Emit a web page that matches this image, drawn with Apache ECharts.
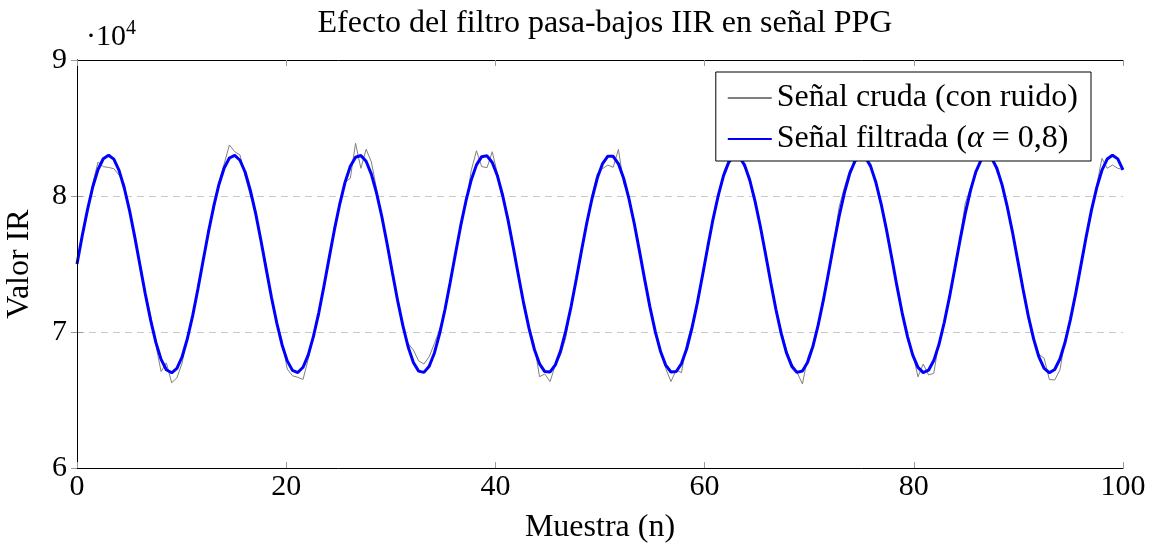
<!DOCTYPE html>
<html>
<head>
<meta charset="utf-8">
<title>Efecto del filtro pasa-bajos IIR en señal PPG</title>
<script src="https://cdn.jsdelivr.net/npm/echarts@6/dist/echarts.min.js"></script>
<style>
  html, body { margin: 0; padding: 0; background: #fff; }
  #chart { width: 1153px; height: 550px; }
</style>
</head>
<body>
<div id="chart"></div>
<script>
// sample positions (n), 200 samples over 0..100
const sampleN = [
  0, 0.50, 1.01, 1.51, 2.01, 2.51, 3.02, 3.52, 4.02, 4.52, 5.03, 5.53, 6.03, 6.53, 7.04, 7.54, 8.04, 8.54, 9.05, 9.55,
  10.05, 10.55, 11.06, 11.56, 12.06, 12.56, 13.07, 13.57, 14.07, 14.57, 15.08, 15.58, 16.08, 16.58, 17.09, 17.59, 18.09, 18.59, 19.10, 19.60,
  20.10, 20.60, 21.11, 21.61, 22.11, 22.61, 23.12, 23.62, 24.12, 24.62, 25.13, 25.63, 26.13, 26.63, 27.14, 27.64, 28.14, 28.64, 29.15, 29.65,
  30.15, 30.65, 31.16, 31.66, 32.16, 32.66, 33.17, 33.67, 34.17, 34.67, 35.18, 35.68, 36.18, 36.68, 37.19, 37.69, 38.19, 38.69, 39.20, 39.70,
  40.20, 40.70, 41.21, 41.71, 42.21, 42.71, 43.22, 43.72, 44.22, 44.72, 45.23, 45.73, 46.23, 46.73, 47.24, 47.74, 48.24, 48.74, 49.25, 49.75,
  50.25, 50.75, 51.26, 51.76, 52.26, 52.76, 53.27, 53.77, 54.27, 54.77, 55.28, 55.78, 56.28, 56.78, 57.29, 57.79, 58.29, 58.79, 59.30, 59.80,
  60.30, 60.80, 61.31, 61.81, 62.31, 62.81, 63.32, 63.82, 64.32, 64.82, 65.33, 65.83, 66.33, 66.83, 67.34, 67.84, 68.34, 68.84, 69.35, 69.85,
  70.35, 70.85, 71.36, 71.86, 72.36, 72.86, 73.37, 73.87, 74.37, 74.87, 75.38, 75.88, 76.38, 76.88, 77.39, 77.89, 78.39, 78.89, 79.40, 79.90,
  80.40, 80.90, 81.41, 81.91, 82.41, 82.91, 83.42, 83.92, 84.42, 84.92, 85.43, 85.93, 86.43, 86.93, 87.44, 87.94, 88.44, 88.94, 89.45, 89.95,
  90.45, 90.95, 91.46, 91.96, 92.46, 92.96, 93.47, 93.97, 94.47, 94.97, 95.48, 95.98, 96.48, 96.98, 97.49, 97.99, 98.49, 98.99, 99.50, 100
];

// raw IR signal (with noise)
const rawSignal = [
  75000, 77231, 78818, 80929, 82499, 82161, 82100, 82008, 81536, 80890, 78759, 77159, 74624, 72947, 71172, 69033, 67089, 67728, 66272, 66627,
  67720, 69702, 71052, 73414, 75152, 77522, 78931, 80999, 82364, 83753, 83256, 83019, 81447, 80001, 78883, 76561, 74872, 72358, 70762, 69366,
  67278, 66780, 66669, 66509, 68021, 69892, 71179, 73562, 75304, 77812, 79294, 81019, 81301, 83878, 82036, 83434, 82511, 80514, 78259, 76614,
  74119, 72517, 70349, 69146, 68681, 67875, 67650, 68185, 69158, 70180, 71455, 73810, 75606, 78001, 79403, 81884, 83329, 82163, 82084, 83257,
  81615, 79819, 78478, 76065, 74318, 71832, 70397, 69039, 66712, 66911, 66353, 67582, 68312, 69581, 72038, 73710, 76257, 77884, 80053, 81668,
  82016, 82276, 82110, 83430, 80931, 80019, 77845, 76214, 73668, 71999, 69797, 68786, 67325, 66357, 67196, 67009, 69165, 70531, 71972, 74361,
  76007, 78418, 79853, 81741, 82683, 82809, 82987, 82073, 81408, 79469, 77962, 75464, 73768, 71416, 70097, 68634, 67701, 67028, 66184, 68081,
  69124, 70335, 72608, 74212, 76656, 79196, 80646, 81914, 82416, 83177, 82738, 82411, 80790, 79558, 77272, 75662, 73221, 71641, 69461, 68448,
  66706, 67647, 66839, 66958, 69295, 70549, 72849, 74464, 76903, 79461, 80632, 81620, 82892, 82888, 82984, 81794, 80970, 78995, 77531, 75060,
  73324, 70917, 69625, 68362, 68070, 66506, 66474, 67204, 69465, 70762, 73089, 74717, 77150, 78695, 80819, 82766, 82038, 82280, 82039, 81928
];

// IIR low-pass output (alpha = 0.8)
const filteredSignal = [
  75000, 77081, 79018, 80679, 81949, 82741, 83000, 82708, 81886, 80590, 78909, 76959, 74874, 72797, 70872, 69233, 67989, 67228, 67002, 67327,
  68180, 69502, 71202, 73164, 75252, 77322, 79231, 80849, 82064, 82793, 82986, 82629, 81747, 80401, 78683, 76711, 74622, 72558, 70662, 69066,
  67878, 67180, 67019, 67409, 68321, 69692, 71429, 73412, 75504, 77562, 79444, 81019, 82181, 82848, 82976, 82554, 81611, 80214, 78459, 76464,
  74369, 72317, 70449, 68896, 67761, 67125, 67030, 67485, 68458, 69880, 71655, 73660, 75756, 77801, 79653, 81184, 82289, 82893, 82954, 82467,
  81465, 80019, 78228, 76215, 74118, 72082, 70247, 68739, 67662, 67091, 67063, 67582, 68612, 70081, 71888, 73910, 76007, 78034, 79853, 81338,
  82386, 82926, 82920, 82370, 81311, 79819, 77995, 75964, 73868, 71849, 70047, 68586, 67565, 67057, 67096, 67679, 68765, 70281, 72122, 74161,
  76257, 78268, 80053, 81491, 82483, 82959, 82887, 82273, 81158, 79619, 77762, 75714, 73618, 71616, 69847, 68434, 67471, 67028, 67134, 67781,
  68924, 70485, 72358, 74412, 76506, 78496, 80246, 81634, 82566, 82977, 82838, 82161, 80990, 79408, 77522, 75462, 73371, 71391, 69661, 68298,
  67396, 67017, 67189, 67898, 69095, 70699, 72599, 74664, 76753, 78721, 80432, 81770, 82642, 82988, 82784, 82044, 80820, 79195, 77281, 75210,
  73124, 71167, 69475, 68162, 67320, 67006, 67244, 68014, 69265, 70912, 72839, 74917, 77000, 78945, 80619, 81906, 82718, 83000, 82729, 81928
];

const xTicks = [0, 20, 40, 60, 80, 100];
const yTicks = [60000, 70000, 80000, 90000];

const FONT = 'Liberation Serif';
const TEXT_SIZE = 32;
const TICK_SIZE = 30;

const chart = echarts.init(document.getElementById('chart'), null, { renderer: 'canvas' });

const frameAxis = {
  axisLine: { show: true, lineStyle: { color: '#000', width: 1 } },
  axisTick: { show: true, inside: true, length: 6, lineStyle: { color: '#999' } },
  splitLine: { show: false },
};

const option = {
  animation: false,
  backgroundColor: '#fff',
  textStyle: { fontFamily: FONT, color: '#000' },
  title: {
    text: 'Efecto del filtro pasa-bajos IIR en señal PPG',
    left: 600,
    top: 3,
    textAlign: 'center',
    textStyle: { fontFamily: FONT, fontSize: TEXT_SIZE, fontWeight: 'normal', color: '#000' },
  },
  graphic: [{
    type: 'text',
    left: 86,
    top: 19,
    style: {
      text: '·10{s|4}',
      font: TICK_SIZE + 'px ' + FONT,
      fill: '#000',
      rich: { s: { fontSize: 20, fontFamily: FONT, padding: [0, 0, 16, 0] } },
    },
  }],
  legend: {
    orient: 'vertical',
    right: 62,
    top: 72,
    padding: [10, 13, 6, 11],
    itemWidth: 44,
    itemHeight: 14,
    itemGap: 9,
    backgroundColor: '#fff',
    borderColor: '#000',
    borderWidth: 1,
    borderRadius: 0,
    itemStyle: { opacity: 0 },
    textStyle: {
      fontFamily: FONT,
      fontSize: TEXT_SIZE,
      lineHeight: 30,
      color: '#000',
      rich: {
        n: { fontFamily: FONT, fontSize: TEXT_SIZE, lineHeight: 30, color: '#000' },
        i: { fontFamily: FONT, fontSize: TEXT_SIZE, lineHeight: 30, fontStyle: 'italic', color: '#000' },
      },
    },
    formatter: (name) => (name.indexOf('filtrada') >= 0
      ? '{n|Señal filtrada (}{i|α}{n| = 0,8)}'
      : name),
    data: ['Señal cruda (con ruido)', 'Señal filtrada (α = 0,8)'],
  },
  grid: { left: 77, right: 30, top: 60, bottom: 82, containLabel: false, outerBoundsMode: 'none' },
  xAxis: [{
    type: 'value',
    min: xTicks[0],
    max: xTicks[xTicks.length - 1],
    interval: 20,
    position: 'bottom',
    name: 'Muestra (n)',
    nameLocation: 'middle',
    nameGap: 44,
    nameTextStyle: { fontFamily: FONT, fontSize: TEXT_SIZE, color: '#000' },
    axisLabel: { fontFamily: FONT, fontSize: TICK_SIZE, color: '#000', margin: 4 },
    z: 5,
    ...frameAxis,
  }, {
    type: 'value',
    min: xTicks[0],
    max: xTicks[xTicks.length - 1],
    interval: 20,
    position: 'top',
    axisLabel: { show: false },
    z: 5,
    ...frameAxis,
  }],
  yAxis: [{
    type: 'value',
    min: yTicks[0],
    max: yTicks[yTicks.length - 1],
    interval: 10000,
    position: 'left',
    name: 'Valor IR',
    nameLocation: 'middle',
    nameGap: 41,
    nameTextStyle: { fontFamily: FONT, fontSize: TEXT_SIZE, color: '#000' },
    axisLabel: {
      fontFamily: FONT, fontSize: TICK_SIZE, color: '#000', margin: 10,
      formatter: (v) => String(v / 10000),
    },
    axisLine: { show: true, lineStyle: { color: '#000', width: 1 } },
    axisTick: { show: true, inside: true, length: 6, lineStyle: { color: '#999' } },
    splitLine: { show: true, lineStyle: { color: '#c8c8c8', type: [7, 5], width: 1 } },
  }, {
    type: 'value',
    min: yTicks[0],
    max: yTicks[yTicks.length - 1],
    interval: 10000,
    position: 'right',
    axisLabel: { show: false },
    z: 5,
    ...frameAxis,
  }],
  series: [{
    name: 'Señal cruda (con ruido)',
    type: 'line',
    data: sampleN.map((n, i) => [n, rawSignal[i]]),
    symbol: 'none',
    lineStyle: { color: '#808080', width: 1 },
    itemStyle: { color: '#808080' },
    z: 2,
  }, {
    name: 'Señal filtrada (α = 0,8)',
    type: 'line',
    data: sampleN.map((n, i) => [n, filteredSignal[i]]),
    symbol: 'none',
    lineStyle: { color: '#0000ff', width: 3 },
    itemStyle: { color: '#0000ff' },
    z: 3,
  }],
};

chart.setOption(option);
</script>
</body>
</html>
